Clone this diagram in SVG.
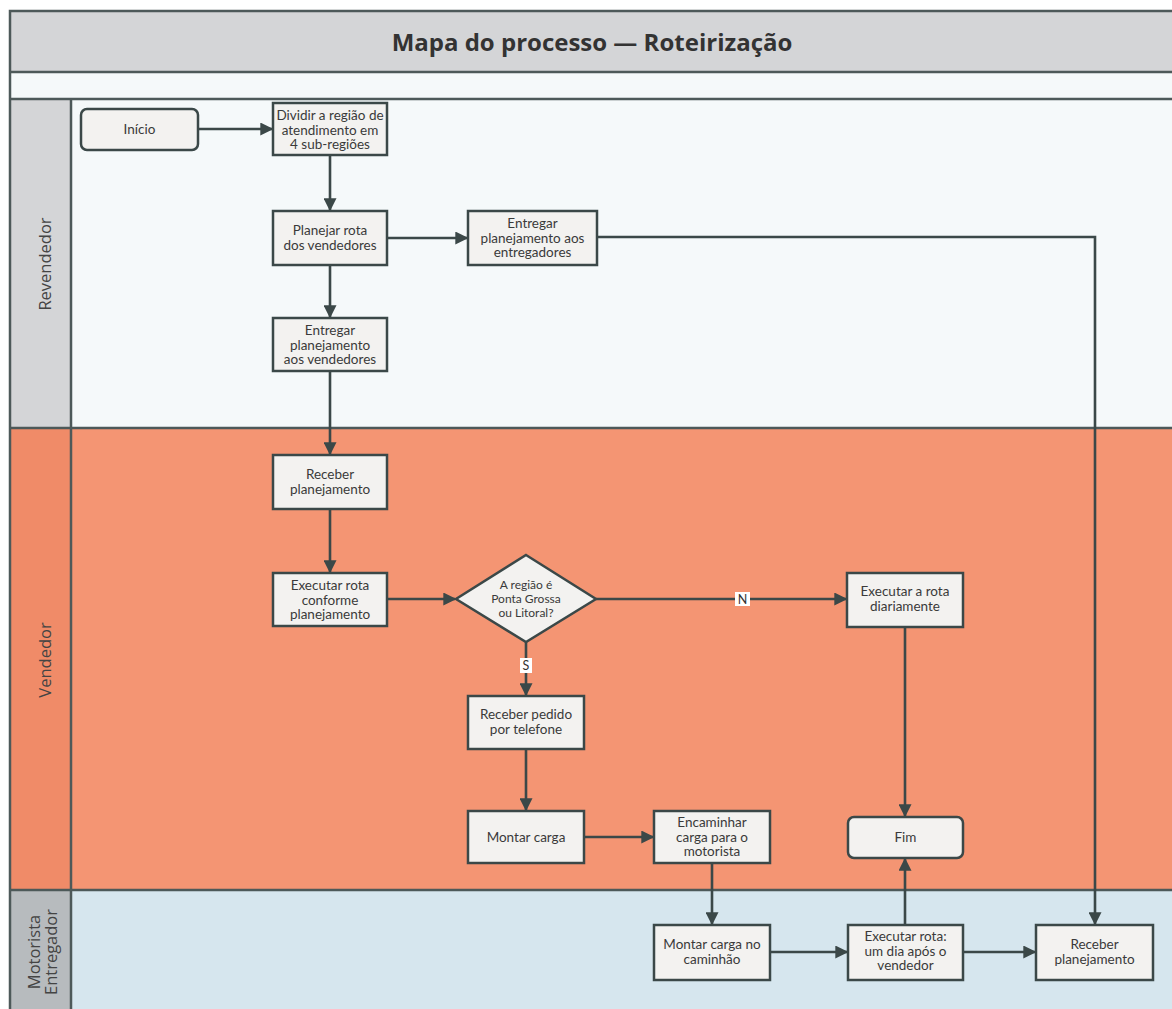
<svg xmlns="http://www.w3.org/2000/svg" width="1172" height="1009" viewBox="0 0 1172 1009">
<style>
.node{fill:#f3f2f0;stroke:#3b4848;stroke-width:2.5}
.t{font-family:Lato,"Noto Sans",sans-serif;font-size:13.5px;fill:#3a3a3a;text-anchor:middle}
.d{font-family:Lato,"Noto Sans",sans-serif;font-size:12px;fill:#3a3a3a;text-anchor:middle}
.lane{font-family:"Open Sans","Noto Sans",sans-serif;font-size:16.5px;fill:#444;text-anchor:middle}
.c{fill:none;stroke:#3b4848;stroke-width:2.6}
.sep{stroke:#4d5959;stroke-width:2.5;fill:none}
.lbl{font-family:Lato,"Noto Sans",sans-serif;font-size:12.5px;fill:#333;text-anchor:middle}
</style>
<defs>
<marker id="ah" viewBox="0 0 10 10" refX="9" refY="5" markerWidth="5" markerHeight="5" orient="auto" markerUnits="strokeWidth">
<path d="M0,0 L10,5 L0,10 z" fill="#3b4848"/>
</marker>
</defs>
<rect width="1172" height="1009" fill="#ffffff"/>
<g id="lanes">
<rect x="10" y="11" width="1170" height="61" fill="#d4d5d7"/>
<rect x="10" y="72" width="1170" height="27" fill="#f5f9fa"/>
<rect x="10" y="99" width="61" height="329" fill="#d4d5d7"/>
<rect x="71" y="99" width="1110" height="329" fill="#f5f9fa"/>
<rect x="10" y="428" width="61" height="462" fill="#f08b68"/>
<rect x="71" y="428" width="1110" height="462" fill="#f49573"/>
<rect x="10" y="890" width="61" height="130" fill="#b7bbbe"/>
<rect x="71" y="890" width="1110" height="130" fill="#d6e6ee"/>
<path class="sep" d="M1180,11 H10 V1020"/>
<path class="sep" d="M10,72 H1180 M10,99 H1180 M10,428 H1180 M10,890 H1180 M71,99 V1020"/>
<text x="592" y="51" font-family="'Open Sans','Noto Sans',sans-serif" font-size="24" font-weight="bold" fill="#333" text-anchor="middle">Mapa do processo — Roteirização</text>
<text class="lane" transform="translate(51,264) rotate(-90)">Revendedor</text>
<text class="lane" transform="translate(51,660) rotate(-90)">Vendedor</text>
<text class="lane" transform="translate(40,952) rotate(-90)">Motorista</text>
<text class="lane" transform="translate(57,952) rotate(-90)">Entregador</text>
</g>
<g id="connectors">
<path class="c" marker-end="url(#ah)" d="M198,129 H272"/>
<path class="c" marker-end="url(#ah)" d="M330,156 V210"/>
<path class="c" marker-end="url(#ah)" d="M388,238 H467"/>
<path class="c" marker-end="url(#ah)" d="M330,265 V317"/>
<path class="c" marker-end="url(#ah)" d="M597,237 H1095 V924"/>
<path class="c" marker-end="url(#ah)" d="M330,371 V454"/>
<path class="c" marker-end="url(#ah)" d="M330,509 V572"/>
<path class="c" marker-end="url(#ah)" d="M388,599 H455"/>
<path class="c" marker-end="url(#ah)" d="M596,599 H846"/>
<path class="c" marker-end="url(#ah)" d="M526,642 V695"/>
<path class="c" marker-end="url(#ah)" d="M905,627 V816"/>
<path class="c" marker-end="url(#ah)" d="M526,749 V810"/>
<path class="c" marker-end="url(#ah)" d="M584,837 H653"/>
<path class="c" marker-end="url(#ah)" d="M712,863 V924"/>
<path class="c" marker-end="url(#ah)" d="M770,952 H847"/>
<path class="c" marker-end="url(#ah)" d="M905,925 V859"/>
<path class="c" marker-end="url(#ah)" d="M963,952 H1035"/>
<rect x="735" y="592" width="15" height="14" fill="#ffffff"/>
<text class="lbl" x="742.5" y="604">N</text>
<rect x="520" y="658" width="12" height="15" fill="#ffffff"/>
<text class="lbl" x="526" y="670">S</text>
</g>
<g id="n-inicio"><rect class="node" x="81" y="109" width="117" height="41" rx="6"/><text class="t" x="139.5" y="134">Início</text></g>
<g id="n-dividir"><rect class="node" x="273" y="103" width="114" height="52"/><text class="t" x="330" y="120">Dividir a região de</text><text class="t" x="330" y="134.5">atendimento em</text><text class="t" x="330" y="149">4 sub-regiões</text></g>
<g id="n-planejar"><rect class="node" x="273" y="211" width="114" height="54"/><text class="t" x="330" y="235">Planejar rota</text><text class="t" x="330" y="249.5">dos vendedores</text></g>
<g id="n-entreg-entregadores"><rect class="node" x="468" y="211" width="129" height="54"/><text class="t" x="532.5" y="228">Entregar</text><text class="t" x="532.5" y="242.5">planejamento aos</text><text class="t" x="532.5" y="257">entregadores</text></g>
<g id="n-entreg-vendedores"><rect class="node" x="273" y="318" width="114" height="53"/><text class="t" x="330" y="335">Entregar</text><text class="t" x="330" y="349.5">planejamento</text><text class="t" x="330" y="364">aos vendedores</text></g>
<g id="n-receber"><rect class="node" x="273" y="455" width="114" height="54"/><text class="t" x="330" y="479">Receber</text><text class="t" x="330" y="493.5">planejamento</text></g>
<g id="n-executar"><rect class="node" x="273" y="573" width="114" height="53"/><text class="t" x="330" y="590">Executar rota</text><text class="t" x="330" y="604.5">conforme</text><text class="t" x="330" y="619">planejamento</text></g>
<g id="n-decisao"><path class="node" d="M526,555 L596,599 L526,642 L456,599 Z"/><text class="d" x="526" y="589">A região é</text><text class="d" x="526" y="603">Ponta Grossa</text><text class="d" x="526" y="617">ou Litoral?</text></g>
<g id="n-diariamente"><rect class="node" x="847" y="573" width="116" height="54"/><text class="t" x="905" y="596">Executar a rota</text><text class="t" x="905" y="611">diariamente</text></g>
<g id="n-pedido"><rect class="node" x="468" y="696" width="116" height="53"/><text class="t" x="526" y="719">Receber pedido</text><text class="t" x="526" y="734">por telefone</text></g>
<g id="n-montar"><rect class="node" x="468" y="811" width="116" height="52"/><text class="t" x="526" y="842">Montar carga</text></g>
<g id="n-encaminhar"><rect class="node" x="654" y="811" width="116" height="52"/><text class="t" x="712" y="827">Encaminhar</text><text class="t" x="712" y="841.5">carga para o</text><text class="t" x="712" y="856">motorista</text></g>
<g id="n-fim"><rect class="node" x="848" y="817" width="115" height="41" rx="6"/><text class="t" x="905.5" y="842">Fim</text></g>
<g id="n-caminhao"><rect class="node" x="654" y="925" width="116" height="55"/><text class="t" x="712" y="949">Montar carga no</text><text class="t" x="712" y="964">caminhão</text></g>
<g id="n-executar-rota"><rect class="node" x="848" y="925" width="115" height="55"/><text class="t" x="905.5" y="941">Executar rota:</text><text class="t" x="905.5" y="955.5">um dia após o</text><text class="t" x="905.5" y="970">vendedor</text></g>
<g id="n-receber-motorista"><rect class="node" x="1036" y="925" width="117" height="55"/><text class="t" x="1094.5" y="949">Receber</text><text class="t" x="1094.5" y="964">planejamento</text></g>
</svg>
